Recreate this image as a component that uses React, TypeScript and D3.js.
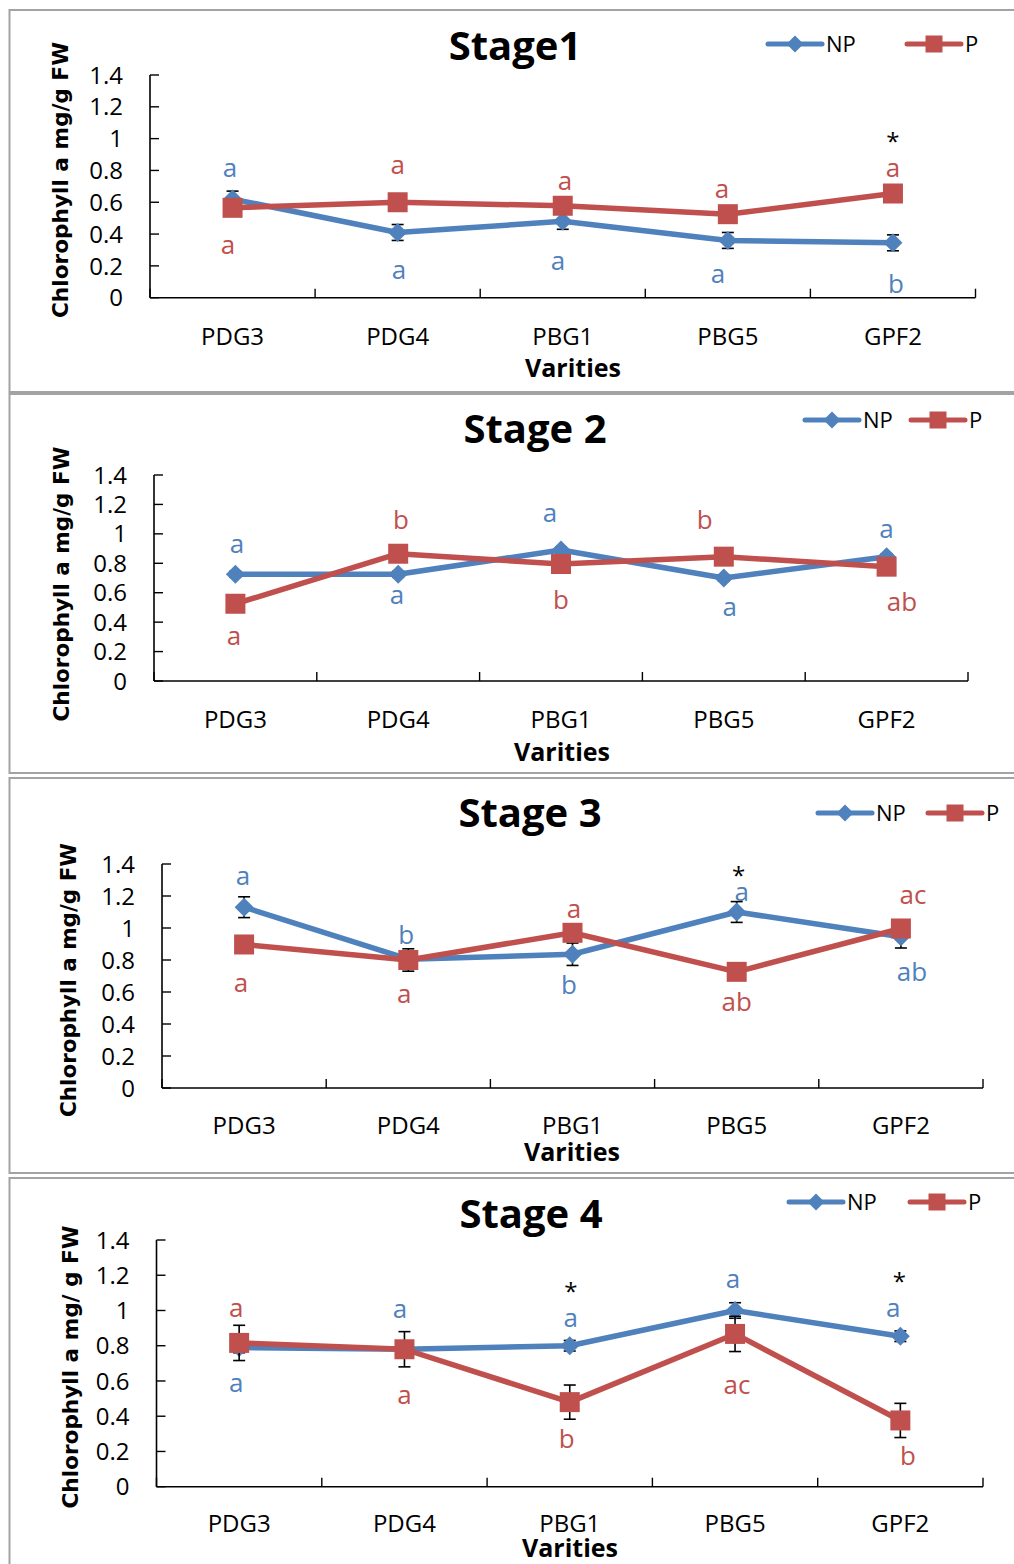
import React from 'react';
import * as d3 from 'd3';

// ---- data ----
const categories = ['PDG3', 'PDG4', 'PBG1', 'PBG5', 'GPF2'];
const seriesNames = ['NP', 'P'];
const stageTitles = ['Stage1', 'Stage 2', 'Stage 3', 'Stage 4'];
const yTitles = [
  'Chlorophyll a mg/g FW',
  'Chlorophyll a mg/g FW',
  'Chlorophyll a mg/g FW',
  'Chlorophyll a mg/ g FW',
];
const xTitle = 'Varities';
const yMax = 1.4;

const npStage1 = [0.62, 0.41, 0.48, 0.36, 0.345];
const pStage1 = [0.565, 0.6, 0.578, 0.525, 0.655];
const npErr1 = [0.05, 0.05, 0.05, 0.05, 0.05];
const pErr1 = [0.02, 0.02, 0.02, 0.02, 0.02];

const npStage2 = [0.725, 0.725, 0.89, 0.7, 0.845];
const pStage2 = [0.525, 0.865, 0.795, 0.845, 0.777];
const npErr2 = [0.02, 0.02, 0.02, 0.02, 0.02];
const pErr2 = [0.02, 0.02, 0.02, 0.02, 0.02];

const npStage3 = [1.13, 0.805, 0.836, 1.1, 0.945];
const pStage3 = [0.897, 0.8, 0.97, 0.726, 0.997];
const npErr3 = [0.065, 0.03, 0.07, 0.065, 0.07];
const pErr3 = [0.03, 0.07, 0.03, 0.03, 0.03];

const npStage4 = [0.79, 0.78, 0.8, 1.0, 0.854];
const pStage4 = [0.816, 0.78, 0.48, 0.867, 0.376];
const npErr4 = [0.03, 0.03, 0.03, 0.044, 0.03];
const pErr4 = [0.1, 0.1, 0.097, 0.1, 0.097];

// significance letters and the value level each one sits at
const npLetters1 = ['a', 'a', 'a', 'a', 'b'];
const npLetterAt1 = [0.76, 0.12, 0.175, 0.095, 0.03];
const pLetters1 = ['a', 'a', 'a', 'a', 'a'];
const pLetterAt1 = [0.275, 0.775, 0.68, 0.625, 0.76];

const npLetters2 = ['a', 'a', 'a', 'a', 'a'];
const npLetterAt2 = [0.87, 0.52, 1.08, 0.44, 0.97];
const pLetters2 = ['a', 'b', 'b', 'b', 'ab'];
const pLetterAt2 = [0.245, 1.03, 0.49, 1.03, 0.476];

const npLetters3 = ['a', 'b', 'b', 'a', 'ab'];
const npLetterAt3 = [1.27, 0.9, 0.59, 1.17, 0.67];
const pLetters3 = ['a', 'a', 'a', 'ab', 'ac'];
const pLetterAt3 = [0.6, 0.53, 1.06, 0.48, 1.15];

const npLetters4 = ['a', 'a', 'a', 'a', 'a'];
const npLetterAt4 = [0.535, 0.956, 0.905, 1.127, 0.962];
const pLetters4 = ['a', 'a', 'b', 'ac', 'b'];
const pLetterAt4 = [0.962, 0.472, 0.222, 0.524, 0.125];

const starCats = [['GPF2'], [], ['PBG5'], ['PBG1', 'GPF2']];
const starAt = [[0.93], [], [1.273], [1.06, 1.116]];

// ---- layout ----
const BLUE = '#4F81BD';
const RED = '#C0504D';
const FONT = "'Open Sans', 'Noto Sans', sans-serif";

const stages = [
  { np: npStage1, p: pStage1, npErr: npErr1, pErr: pErr1, npL: npLetters1, npLAt: npLetterAt1, pL: pLetters1, pLAt: pLetterAt1 },
  { np: npStage2, p: pStage2, npErr: npErr2, pErr: pErr2, npL: npLetters2, npLAt: npLetterAt2, pL: pLetters2, pLAt: pLetterAt2 },
  { np: npStage3, p: pStage3, npErr: npErr3, pErr: pErr3, npL: npLetters3, npLAt: npLetterAt3, pL: pLetters3, pLAt: pLetterAt3 },
  { np: npStage4, p: pStage4, npErr: npErr4, pErr: pErr4, npL: npLetters4, npLAt: npLetterAt4, pL: pLetters4, pLAt: pLetterAt4 },
];

const layouts = [
  {
    frameTop: 10, frameBottom: 392, x0: 150, x1: 975.5, yTop: 75, yBot: 297.7,
    titleX: 515, titleY: 60, legendY: 44, npLeg: 768, pLeg: 907,
    yLabX: 61, yLabC: 180, yLabLen: 276, catY: 345, xTitleX: 573, xTitleY: 377,
    npNudge: [-2.5, 1.4, -4.7, -9.8, 3], pNudge: [-4.5, 0, 2.3, -5.8, 0], starNudge: [0],
  },
  {
    frameTop: 394, frameBottom: 773, x0: 154, x1: 968, yTop: 475, yBot: 681,
    titleX: 535, titleY: 443, legendY: 420, npLeg: 805, pLeg: 911,
    yLabX: 62, yLabC: 584, yLabLen: 275, catY: 728, xTitleX: 562, xTitleY: 761,
    npNudge: [1.6, -1.2, -11, 6, 0], pNudge: [-1.4, 2.8, 0, -19, 15.4], starNudge: [],
  },
  {
    frameTop: 778, frameBottom: 1173, x0: 162, x1: 983, yTop: 864, yBot: 1088,
    titleX: 530, titleY: 827, legendY: 813, npLeg: 818, pLeg: 928,
    yLabX: 69, yLabC: 980, yLabLen: 274, catY: 1134, xTitleX: 572, xTitleY: 1161,
    npNudge: [-1, -2, -3.5, 5, 11], pNudge: [-3, -4, 1.5, 0, 12], starNudge: [2],
  },
  {
    frameTop: 1178, frameBottom: 1600, x0: 156.5, x1: 983, yTop: 1240, yBot: 1486.7,
    titleX: 531, titleY: 1228, legendY: 1202, npLeg: 789, pLeg: 910,
    yLabX: 71, yLabC: 1367, yLabLen: 283, catY: 1532, xTitleX: 570, xTitleY: 1557,
    npNudge: [-3, -4.5, 1, -2, -7], pNudge: [-3, 0, -3, 2, 7.6], starNudge: [1, -1],
  },
];

function Diamond({ x, y, r, fill }: { x: number; y: number; r: number; fill: string }) {
  return <path d={`M${x},${y - r}L${x + r},${y}L${x},${y + r}L${x - r},${y}Z`} fill={fill} />;
}

function Square({ x, y, s, fill }: { x: number; y: number; s: number; fill: string }) {
  return <rect x={x - s / 2} y={y - s / 2} width={s} height={s} fill={fill} />;
}

function Panel({ idx }: { idx: number }) {
  const L = layouts[idx];
  const S = stages[idx];
  const x = d3.scaleBand<string>().domain(categories).range([L.x0, L.x1]).padding(0);
  const cx = (c: string) => (x(c) as number) + x.bandwidth() / 2;
  const y = d3.scaleLinear().domain([0, yMax]).range([L.yBot, L.yTop]);
  const line = d3
    .line<number>()
    .x((_, i) => cx(categories[i]))
    .y((d) => y(d));
  const ticks = d3.range(0, yMax + 0.001, 0.2);
  const bounds = [...categories.map((c) => x(c) as number), L.x1];

  const errBars = (vals: number[], errs: number[]) =>
    vals.map((v, i) => {
      const px = cx(categories[i]);
      const t = y(v + errs[i]);
      const b = y(v - errs[i]);
      return (
        <g key={i} stroke="#000" strokeWidth={1.6}>
          <line x1={px} x2={px} y1={t} y2={b} />
          <line x1={px - 6} x2={px + 6} y1={t} y2={t} />
          <line x1={px - 6} x2={px + 6} y1={b} y2={b} />
        </g>
      );
    });

  const letterStyle = { fontFamily: FONT, fontSize: 26 } as const;

  return (
    <g>
      {/* frame */}
      <rect x={9.5} y={L.frameTop} width={1020} height={L.frameBottom - L.frameTop} fill="none" stroke="#a3a3a3" strokeWidth={2} />

      {/* title */}
      <text x={L.titleX} y={L.titleY} textAnchor="middle" fontFamily={FONT} fontWeight={700} fontSize={40} fill="#000">
        {stageTitles[idx]}
      </text>

      {/* legend */}
      <g>
        <line x1={L.npLeg} x2={L.npLeg + 54} y1={L.legendY} y2={L.legendY} stroke={BLUE} strokeWidth={5} strokeLinecap="round" />
        <Diamond x={L.npLeg + 27} y={L.legendY} r={8.5} fill={BLUE} />
        <text x={L.npLeg + 58} y={L.legendY + 8} fontFamily={FONT} fontSize={22} fill="#000">{seriesNames[0]}</text>
        <line x1={L.pLeg} x2={L.pLeg + 54} y1={L.legendY} y2={L.legendY} stroke={RED} strokeWidth={5} strokeLinecap="round" />
        <Square x={L.pLeg + 27} y={L.legendY} s={17} fill={RED} />
        <text x={L.pLeg + 58} y={L.legendY + 8} fontFamily={FONT} fontSize={22} fill="#000">{seriesNames[1]}</text>
      </g>

      {/* y axis */}
      <line x1={L.x0} x2={L.x0} y1={L.yTop} y2={L.yBot} stroke="#000" strokeWidth={1.6} />
      {ticks.map((t) => (
        <g key={t}>
          <line x1={L.x0} x2={L.x0 + 9} y1={y(t)} y2={y(t)} stroke="#000" strokeWidth={1.4} />
          <text x={L.x0 - 27} y={y(t)} dy="0.36em" textAnchor="end" fontFamily={FONT} fontSize={24} fill="#000">
            {String(+t.toFixed(1))}
          </text>
        </g>
      ))}

      {/* x axis */}
      <line x1={L.x0} x2={L.x1} y1={L.yBot} y2={L.yBot} stroke="#000" strokeWidth={1.6} />
      {bounds.map((b, i) => (
        <line key={i} x1={b} x2={b} y1={L.yBot} y2={L.yBot - 9} stroke="#000" strokeWidth={1.4} />
      ))}
      {categories.map((c) => (
        <text key={c} x={cx(c)} y={L.catY} textAnchor="middle" fontFamily={FONT} fontSize={24} fill="#000">
          {c}
        </text>
      ))}
      <text x={L.xTitleX} y={L.xTitleY} textAnchor="middle" fontFamily={FONT} fontWeight={700} fontSize={25} fill="#000">
        {xTitle}
      </text>

      {/* y title */}
      <text
        transform={`translate(${L.yLabX},${L.yLabC}) rotate(-90)`}
        textAnchor="middle"
        dominantBaseline="central"
        fontFamily="'DejaVu Sans', Verdana, sans-serif"
        fontWeight={700}
        fontSize={21}
        textLength={L.yLabLen}
        lengthAdjust="spacingAndGlyphs"
        fill="#000"
      >
        {yTitles[idx]}
      </text>

      {/* NP series */}
      <path d={line(S.np) as string} fill="none" stroke={BLUE} strokeWidth={5.5} strokeLinejoin="round" />
      {errBars(S.np, S.npErr)}
      {S.np.map((v, i) => (
        <Diamond key={i} x={cx(categories[i])} y={y(v)} r={9.5} fill={BLUE} />
      ))}

      {/* P series */}
      <path d={line(S.p) as string} fill="none" stroke={RED} strokeWidth={5.5} strokeLinejoin="round" />
      {errBars(S.p, S.pErr)}
      {S.p.map((v, i) => (
        <Square key={i} x={cx(categories[i])} y={y(v)} s={20} fill={RED} />
      ))}

      {/* letters */}
      {S.npL.map((t, i) => (
        <text key={'n' + i} x={cx(categories[i]) + L.npNudge[i]} y={y(S.npLAt[i])} textAnchor="middle" fill={BLUE} {...letterStyle}>
          {t}
        </text>
      ))}
      {S.pL.map((t, i) => (
        <text key={'p' + i} x={cx(categories[i]) + L.pNudge[i]} y={y(S.pLAt[i])} textAnchor="middle" fill={RED} {...letterStyle}>
          {t}
        </text>
      ))}
      {starCats[idx].map((c, i) => (
        <text key={'s' + i} x={cx(c) + L.starNudge[i]} y={y(starAt[idx][i])} textAnchor="middle" fontFamily={FONT} fontSize={24} fill="#000">
          *
        </text>
      ))}
    </g>
  );
}

export default function App() {
  return (
    <svg
      width={1014}
      height={1564}
      viewBox="0 0 1014 1564"
      style={{ position: 'absolute', left: 0, top: 0, background: '#fff' }}
    >
      <rect width={1014} height={1564} fill="#fff" />
      {layouts.map((_, i) => (
        <Panel key={i} idx={i} />
      ))}
    </svg>
  );
}
